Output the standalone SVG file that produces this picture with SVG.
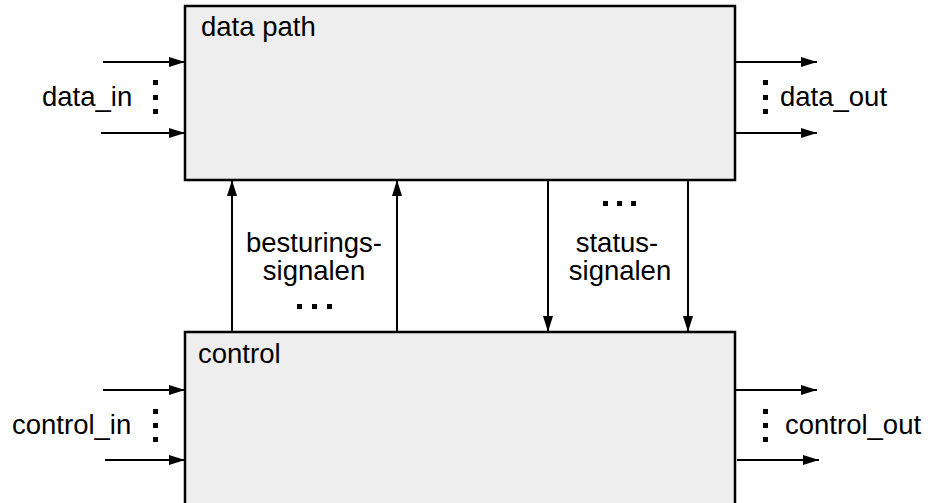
<svg xmlns="http://www.w3.org/2000/svg" width="931" height="503" viewBox="0 0 931 503">
  <style>
    .box { fill: #eeeeee; stroke: #000; stroke-width: 2.5; }
    .wire { stroke: #000; stroke-width: 2; fill: none; }
    .lbl { font-family: "Liberation Sans", Arial, Helvetica, sans-serif; font-size: 27.5px; fill: #000; }
    .mid { text-anchor: middle; }
    .dot { fill: #000; }
  </style>
  <defs>
    <marker id="head" viewBox="0 0 16 10" refX="16" refY="5" markerWidth="16" markerHeight="10" markerUnits="userSpaceOnUse" orient="auto">
      <path d="M0,0 L16,5 L0,10 Z" fill="#000"/>
    </marker>
  </defs>

  <rect width="931" height="503" fill="#fff"/>

  <g id="datapath">
    <rect class="box" x="185" y="6" width="550" height="174"/>
    <text class="lbl" x="201" y="36">data path</text>
  </g>

  <g id="control">
    <rect class="box" x="185" y="332" width="550" height="190"/>
    <text class="lbl" x="198" y="363">control</text>
  </g>

  <g id="connectors">
    <!-- data inputs / outputs -->
    <line class="wire" x1="103" y1="62" x2="185" y2="62" marker-end="url(#head)"/>
    <line class="wire" x1="101" y1="133" x2="185" y2="133" marker-end="url(#head)"/>
    <line class="wire" x1="735" y1="62" x2="817" y2="62" marker-end="url(#head)"/>
    <line class="wire" x1="735" y1="133" x2="817" y2="133" marker-end="url(#head)"/>
    <!-- control inputs / outputs -->
    <line class="wire" x1="103" y1="390" x2="185" y2="390" marker-end="url(#head)"/>
    <line class="wire" x1="105" y1="460" x2="185" y2="460" marker-end="url(#head)"/>
    <line class="wire" x1="735" y1="390" x2="817" y2="390" marker-end="url(#head)"/>
    <line class="wire" x1="737" y1="460" x2="819" y2="460" marker-end="url(#head)"/>
    <!-- control signals up, status signals down -->
    <line class="wire" x1="232" y1="332" x2="232" y2="180" marker-end="url(#head)"/>
    <line class="wire" x1="397" y1="332" x2="397" y2="180" marker-end="url(#head)"/>
    <line class="wire" x1="548" y1="180" x2="548" y2="332" marker-end="url(#head)"/>
    <line class="wire" x1="688" y1="180" x2="688" y2="332" marker-end="url(#head)"/>
  </g>

  <g id="labels">
    <text class="lbl" x="42" y="106">data_in</text>
    <text class="lbl" x="780" y="106">data_out</text>
    <text class="lbl" x="12" y="434">control_in</text>
    <text class="lbl" x="785" y="434">control_out</text>
    <text class="lbl mid" x="314" y="252">besturings-</text>
    <text class="lbl mid" x="314" y="280">signalen</text>
    <text class="lbl mid" x="617" y="252">status-</text>
    <text class="lbl mid" x="620" y="280">signalen</text>
  </g>

  <g id="ellipses">
    <!-- vertical dots -->
    <rect class="dot" x="153" y="80" width="5" height="5"/>
    <rect class="dot" x="153" y="95" width="5" height="5"/>
    <rect class="dot" x="153" y="109" width="5" height="5"/>
    <rect class="dot" x="763" y="80" width="5" height="5"/>
    <rect class="dot" x="763" y="95" width="5" height="5"/>
    <rect class="dot" x="763" y="109" width="5" height="5"/>
    <rect class="dot" x="153" y="409" width="5" height="5"/>
    <rect class="dot" x="153" y="423" width="5" height="5"/>
    <rect class="dot" x="153" y="437" width="5" height="5"/>
    <rect class="dot" x="763" y="409" width="5" height="5"/>
    <rect class="dot" x="763" y="423" width="5" height="5"/>
    <rect class="dot" x="763" y="437" width="5" height="5"/>
    <!-- horizontal dots -->
    <rect class="dot" x="297" y="304" width="5" height="5"/>
    <rect class="dot" x="312" y="304" width="5" height="5"/>
    <rect class="dot" x="327" y="304" width="5" height="5"/>
    <rect class="dot" x="603" y="201" width="5" height="5"/>
    <rect class="dot" x="617" y="201" width="5" height="5"/>
    <rect class="dot" x="631" y="201" width="5" height="5"/>
  </g>
</svg>
